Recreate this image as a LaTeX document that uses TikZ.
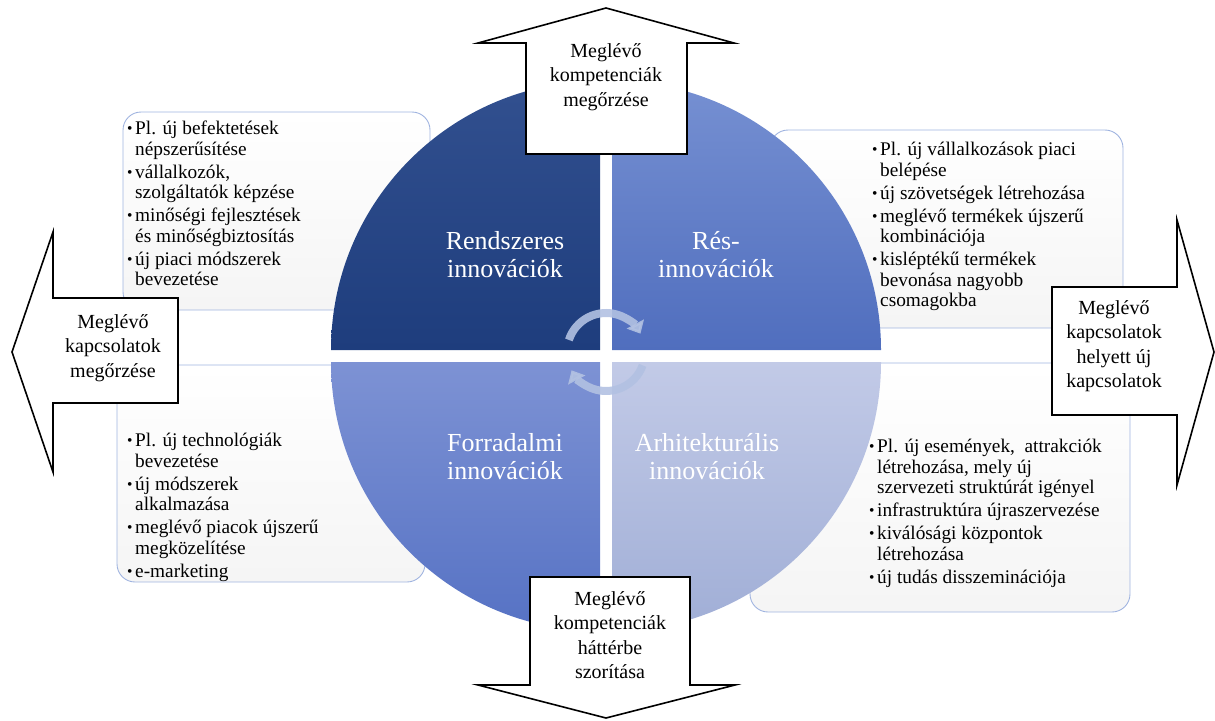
\documentclass[tikz,border=0pt]{standalone}
\usepackage{fontspec}
\setmainfont{Liberation Serif}
\usetikzlibrary{arrows.meta}
\definecolor{boxline}{RGB}{160,180,224}
\definecolor{qa1}{RGB}{50,80,143}\definecolor{qa2}{RGB}{30,61,125}
\definecolor{qb1}{RGB}{118,144,210}\definecolor{qb2}{RGB}{80,110,190}
\definecolor{qc1}{RGB}{125,146,212}\definecolor{qc2}{RGB}{86,114,196}
\definecolor{qd1}{RGB}{194,202,231}\definecolor{qd2}{RGB}{160,174,214}
\definecolor{cyc}{RGB}{178,193,226}
\tikzset{
  infobox/.style={draw=boxline,line width=0.9pt,rounded corners=18pt,top color=white,bottom color=black!4},
  bigarrow/.style={draw=black,line width=1.6pt,fill=white,line join=miter},
  arrowtext/.style={align=center,font=\fontsize{20}{24.5}\selectfont,inner sep=0pt},
  quadtext/.style={align=center,font=\fontsize{26}{28}\selectfont,text=white,inner sep=0pt},
  listtext/.style={anchor=north west,inner sep=0pt,font=\fontsize{19.3}{20.6}\selectfont},
  cycarrow/.style={draw=cyc,line width=8pt,opacity=0.9,-{Triangle[length=11pt,width=19pt]}}
}
\newcommand{\bu}{\makebox[8pt][l]{\raisebox{1pt}{\scalebox{0.8}{\textbullet}}}}
\begin{document}
\begin{tikzpicture}[x=1pt,y=-1pt]
\useasboundingbox (0,0) rectangle (1215,720);
% text boxes
\path[infobox] (123,112) rectangle (430,310);
\path[infobox] (770,130) rectangle (1123,328);
\path[infobox] (117,365) rectangle (425,582);
\path[infobox] (750,363) rectangle (1130,612);
% quadrants
\path[top color=qa1,bottom color=qa2] (600,350) -- ++(-269,0) arc[start angle=180,end angle=270,radius=269] -- cycle;
\path[top color=qb1,bottom color=qb2] (612,350) -- ++(0,-269) arc[start angle=270,end angle=360,radius=269] -- cycle;
\path[top color=qc1,bottom color=qc2] (600,362) -- ++(0,269) arc[start angle=90,end angle=180,radius=269] -- cycle;
\path[top color=qd1,bottom color=qd2] (612,362) -- ++(269,0) arc[start angle=0,end angle=90,radius=269] -- cycle;
\node[quadtext] (q1) at (505,255) {Rendszeres\\innovációk};
\node[quadtext] (q2) at (716,255) {Rés-\\innovációk};
\node[quadtext] (q3) at (505,457) {Forradalmi\\innovációk};
\node[quadtext] (q4) at (707,457) {Arhitekturális\\innovációk};
% cycle arrows
\draw[cycarrow] (606,352) ++(198:39) arc[start angle=198,end angle=332,radius=39];
\draw[cycarrow] (606,352) ++(20:39) arc[start angle=20,end angle=152,radius=39];
% lists
\node[listtext] (l1) at (127,120) {\begin{tabular}{@{}l@{}l@{}}
\bu&Pl. új befektetések\\&népszerűsítése\\[2.3pt]
\bu&vállalkozók,\\&szolgáltatók képzése\\[2.3pt]
\bu&minőségi fejlesztések\\&és minőségbiztosítás\\[2.3pt]
\bu&új piaci módszerek\\&bevezetése\end{tabular}};
\node[listtext] (l2) at (872,141) {\begin{tabular}{@{}l@{}l@{}}
\bu&Pl. új vállalkozások piaci\\&belépése\\[2.3pt]
\bu&új szövetségek létrehozása\\[2.3pt]
\bu&meglévő termékek újszerű\\&kombinációja\\[2.3pt]
\bu&kisléptékű termékek\\&bevonása nagyobb\\&csomagokba\end{tabular}};
\node[listtext] (l3) at (127,432) {\begin{tabular}{@{}l@{}l@{}}
\bu&Pl. új technológiák\\&bevezetése\\[2.3pt]
\bu&új módszerek\\&alkalmazása\\[2.3pt]
\bu&meglévő piacok újszerű\\&megközelítése\\[2.3pt]
\bu&e-marketing\end{tabular}};
\node[listtext] (l4) at (869,438) {\begin{tabular}{@{}l@{}l@{}}
\bu&Pl. új események,\ \ attrakciók\\&létrehozása, mely új\\&szervezeti struktúrát igényel\\[2.3pt]
\bu&infrastruktúra újraszervezése\\[2.3pt]
\bu&kiválósági központok\\&létrehozása\\[2.3pt]
\bu&új tudás disszeminációja\end{tabular}};
% big arrows
\path[bigarrow] (526,154) -- (526,43) -- (478,43) -- (606,8) -- (734,43) -- (687,43) -- (687,154) -- cycle;
\node[arrowtext] (a1) at (606,77) {Meglévő\\kompetenciák\\megőrzése};
\path[bigarrow] (178,298) -- (53,298) -- (53,232) -- (12,352) -- (53,472) -- (53,403) -- (178,403) -- cycle;
\node[arrowtext] (a2) at (113,348) {Meglévő\\kapcsolatok\\megőrzése};
\path[bigarrow] (1052,287) -- (1177,287) -- (1177,220) -- (1214,352) -- (1177,485) -- (1177,415) -- (1052,415) -- cycle;
\node[arrowtext] (a3) at (1114,346) {Meglévő\\kapcsolatok\\helyett új\\kapcsolatok};
\path[bigarrow] (530,577) -- (690,577) -- (690,685) -- (735,685) -- (606,718) -- (478,685) -- (530,685) -- cycle;
\node[arrowtext] (a4) at (610,635) {Meglévő\\kompetenciák\\háttérbe\\szorítása};
\end{tikzpicture}
\end{document}
